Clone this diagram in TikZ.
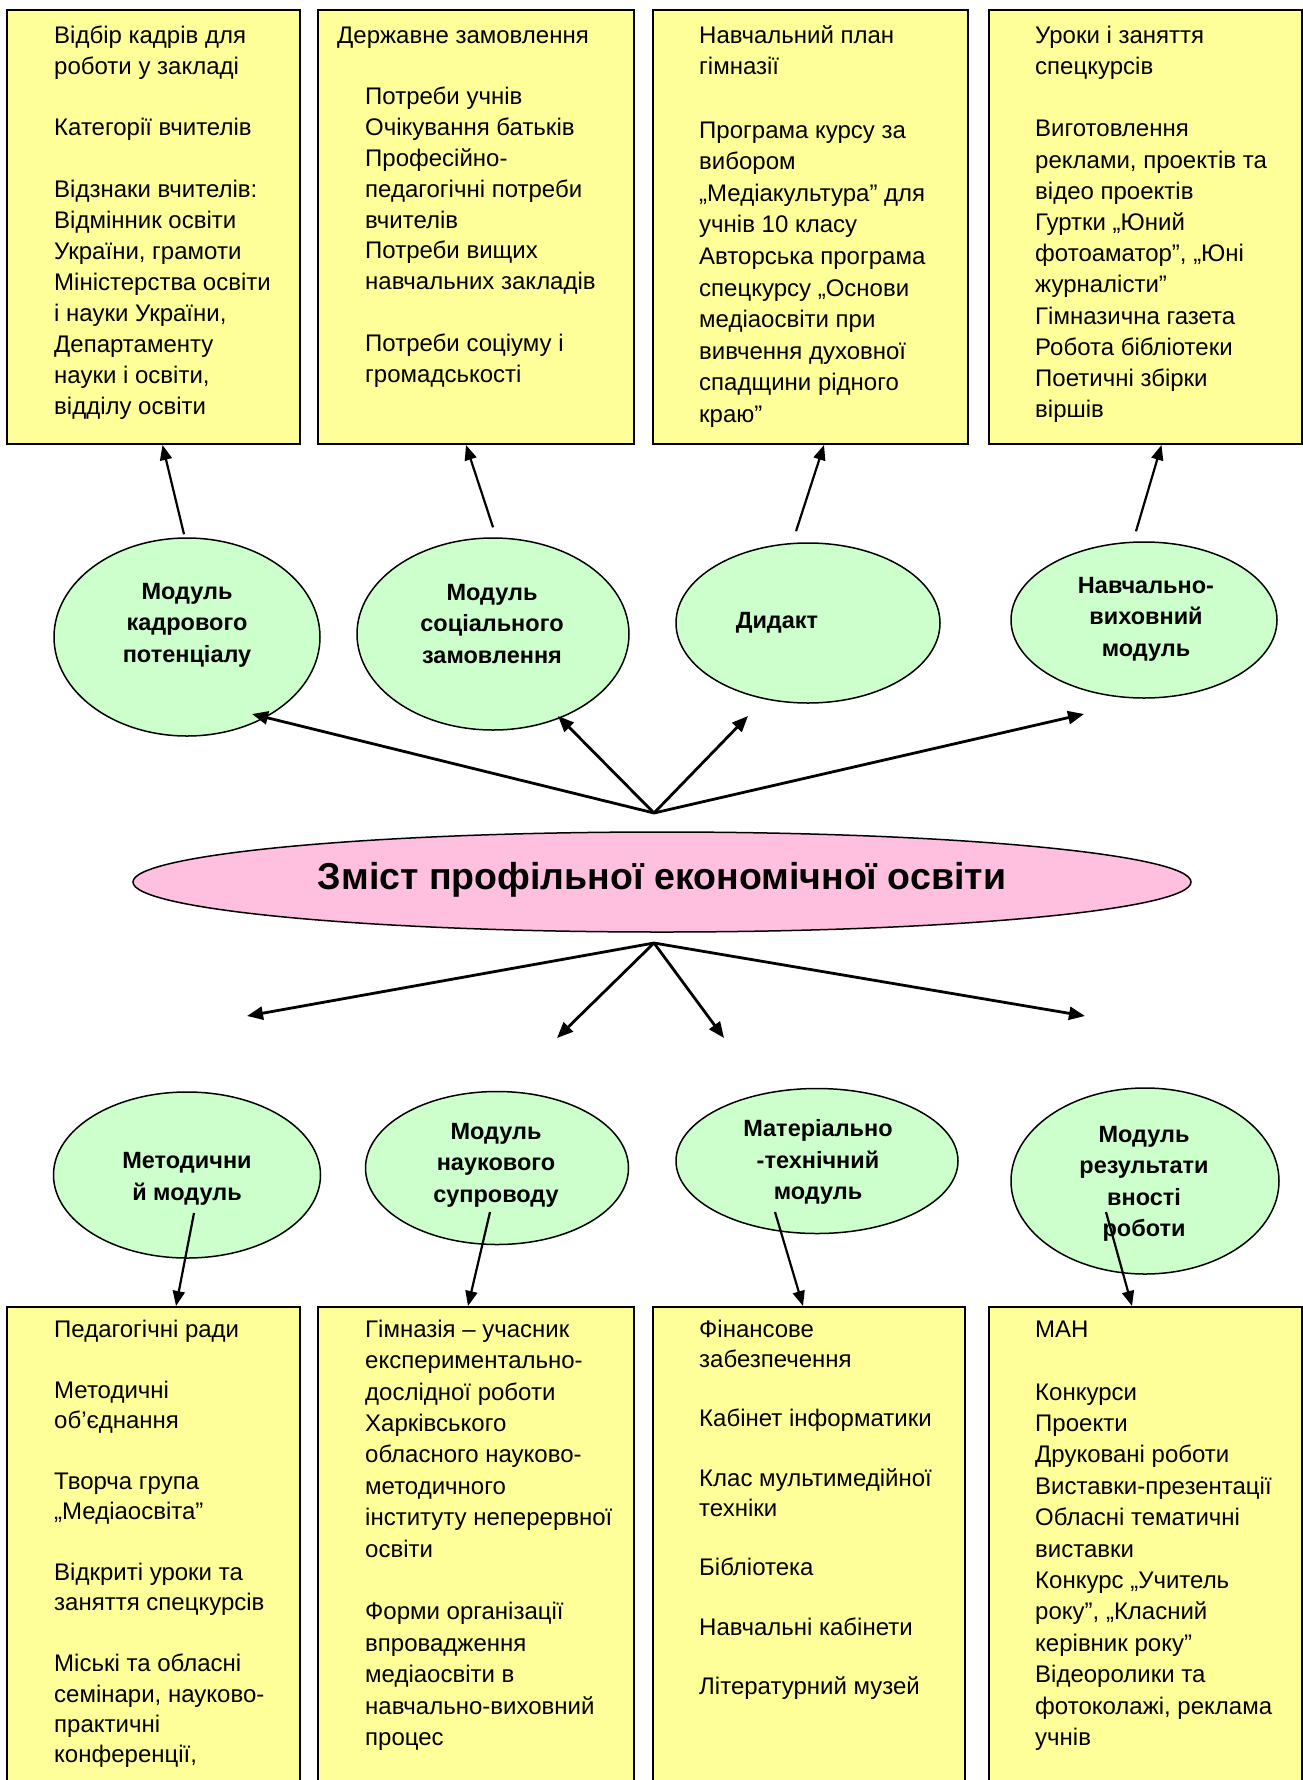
\documentclass[tikz,border=0pt]{standalone}
\usepackage{fontspec}
\setmainfont{Liberation Sans}
\usetikzlibrary{shapes.geometric,arrows.meta}
\definecolor{boxyellow}{HTML}{FFFF99}
\definecolor{elgreen}{HTML}{CCFFCC}
\definecolor{elpink}{HTML}{FFC0E0}
\newlength\bsk
\newcommand\ind{\hspace*{28pt}}
\newcommand\fl{\rule{0pt}{18pt}}
\newcommand\gap{\\[\bsk]}
\tikzset{
 boxsh/.style={draw=black, line width=2pt, fill=boxyellow, rectangle, inner sep=0pt, anchor=north west},
 boxtxt/.style={anchor=north west, inner sep=0pt, align=left, font={\fontsize{24}{#1}\selectfont\setlength{\bsk}{#1pt}}},
 modsh/.style={ellipse, draw=black, line width=1.5pt, fill=elgreen, inner sep=0pt},
 modtxt/.style={align=center, inner sep=0pt, font=\bfseries\fontsize{23.5}{31.5}\selectfont},
 arr/.style={-{Triangle[length=15pt,width=12pt]}, line width=2.2pt},
 hubarr/.style={-{Triangle[length=16pt,width=13pt]}, line width=2.8pt},
}
\begin{document}
\begin{tikzpicture}[x=1pt,y=-1pt]
\useasboundingbox (0,0) rectangle (1303,1780);
\clip (0,0) rectangle (1303,1780);
\fill[white] (0,0) rectangle (1303,1780);

% top boxes
\node[boxsh, minimum width=293pt, minimum height=434pt] (b1) at (6,9) {};
\node[boxsh, minimum width=316pt, minimum height=434pt] (b2) at (317,9) {};
\node[boxsh, minimum width=315pt, minimum height=434pt] (b3) at (652,9) {};
\node[boxsh, minimum width=313pt, minimum height=434pt] (b4) at (988,9) {};

% bottom boxes
\node[boxsh, minimum width=293pt, minimum height=500pt] (b5) at (6,1306) {};
\node[boxsh, minimum width=316pt, minimum height=500pt] (b6) at (317,1306) {};
\node[boxsh, minimum width=312pt, minimum height=500pt] (b7) at (652,1306) {};
\node[boxsh, minimum width=313pt, minimum height=500pt] (b8) at (988,1306) {};

% box texts
\node[boxtxt=30.9] (b1t) at (54,25) {\fl Відбір кадрів для\\роботи у закладі\gap Категорії вчителів\gap Відзнаки вчителів:\\Відмінник освіти\\України, грамоти\\Міністерства освіти\\і науки України,\\Департаменту\\науки і освіти,\\відділу освіти};
\node[boxtxt=30.8] (b2t) at (337,25) {\fl Державне замовлення\gap\ind Потреби учнів\\\ind Очікування батьків\\\ind Професійно-\\\ind педагогічні потреби\\\ind вчителів\\\ind Потреби вищих\\\ind навчальних закладів\gap\ind Потреби соціуму і\\\ind громадськості};
\node[boxtxt=31.6] (b3t) at (699,25) {\fl Навчальний план\\гімназії\gap Програма курсу за\\вибором\\„Медіакультура” для\\учнів 10 класу\\Авторська програма\\спецкурсу „Основи\\медіаосвіти при\\вивчення духовної\\спадщини рідного\\краю”};
\node[boxtxt=31.2] (b4t) at (1035,25) {\fl Уроки і заняття\\спецкурсів\gap Виготовлення\\реклами, проектів та\\відео проектів\\Гуртки „Юний\\фотоаматор”, „Юні\\журналісти”\\Гімназична газета\\Робота бібліотеки\\Поетичні збірки\\віршів};

\node[boxtxt=30.4] (b5t) at (54,1319) {\fl Педагогічні ради\gap Методичні\\об’єднання\gap Творча група\\„Медіаосвіта”\gap Відкриті уроки та\\заняття спецкурсів\gap Міські та обласні\\семінари, науково-\\практичні\\конференції,};
\node[boxtxt=31.4] (b6t) at (365,1319) {\fl Гімназія – учасник\\експериментально-\\дослідної роботи\\Харківського\\обласного науково-\\методичного\\інституту неперервної\\освіти\gap Форми організації\\впровадження\\медіаосвіти в\\навчально-виховний\\процес};
\node[boxtxt=29.8] (b7t) at (699,1319) {\fl Фінансове\\забезпечення\gap Кабінет інформатики\gap Клас мультимедійної\\техніки\gap Бібліотека\gap Навчальні кабінети\gap Літературний музей};
\node[boxtxt=31.4] (b8t) at (1035,1319) {\fl МАН\gap Конкурси\\Проекти\\Друковані роботи\\Виставки-презентації\\Обласні тематичні\\виставки\\Конкурс „Учитель\\року”, „Класний\\керівник року”\\Відеоролики та\\фотоколажі, реклама\\учнів};

% module ellipses
\node[modsh, minimum width=266pt, minimum height=198pt] (e1) at (187,637) {};
\node[modsh, minimum width=272pt, minimum height=192pt] (e2) at (493,634) {};
\node[modsh, minimum width=264pt, minimum height=160pt] (e3) at (808,623) {};
\node[modsh, minimum width=266pt, minimum height=156pt] (e4) at (1144,620) {};
\node[modsh, minimum width=267pt, minimum height=166pt] (e5) at (187,1175) {};
\node[modsh, minimum width=263pt, minimum height=153pt] (e6) at (497,1168) {};
\node[modsh, minimum width=282pt, minimum height=145pt] (e7) at (817,1161) {};
\node[modsh, minimum width=268pt, minimum height=186pt] (e8) at (1145,1181) {};

\node[modtxt] (e1t) at (187,625) {Модуль\\кадрового\\потенціалу};
\node[modtxt] (e2t) at (492,624) {Модуль\\соціального\\замовлення};
\node[modtxt] (e3t) at (777,623) {Дидакт};
\node[modtxt] (e4t) at (1146,619) {Навчально-\\виховний\\модуль};
\node[modtxt] (e5t) at (187,1179) {Методични\\й модуль};
\node[modtxt] (e6t) at (496,1165) {Модуль\\наукового\\супроводу};
\node[modtxt] (e7t) at (818,1162) {Матеріально\\-технічний\\модуль};
\node[modtxt] (e8t) at (1144,1184) {Модуль\\результати\\вності\\роботи};

% central ellipse
\node[ellipse, draw=black, line width=1.5pt, fill=elpink, inner sep=0pt, minimum width=1058pt, minimum height=100pt] (main) at (662,882) {};
\node[inner sep=0pt, font=\bfseries\fontsize{37.5}{42}\selectfont] (mt) at (662,880) {Зміст профільної економічної освіти};

% hub coordinates
\coordinate (hubt) at (654,813);
\coordinate (t1) at (252,714);
\coordinate (t2) at (558,716);
\coordinate (t3) at (748,716);
\coordinate (t4) at (1084,714);
\coordinate (hubb) at (654,943);
\coordinate (u1) at (247,1016);
\coordinate (u2) at (557,1038);
\coordinate (u3) at (724,1038);
\coordinate (u4) at (1085,1016);

\draw[hubarr] (hubt) -- (t1);
\draw[hubarr] (hubt) -- (t2);
\draw[hubarr] (hubt) -- (t3);
\draw[hubarr] (hubt) -- (t4);
\draw[hubarr] (hubb) -- (u1);
\draw[hubarr] (hubb) -- (u2);
\draw[hubarr] (hubb) -- (u3);
\draw[hubarr] (hubb) -- (u4);

% up arrows
\draw[arr] ([shift={(-3pt,3pt)}]e1.north) -- ([xshift=9pt]b1.south);
\draw[arr] ([yshift=10pt]e2.north) -- ([xshift=-10pt]b2.south);
\draw[arr] ([shift={(-12pt,11pt)}]e3.north) -- ([xshift=13.5pt]b3.south);
\draw[arr] ([shift={(-8pt,10pt)}]e4.north) -- ([xshift=16pt]b4.south);

% down arrows
\draw[arr] ([shift={(7pt,-38pt)}]e5.center) -- ([xshift=22.5pt]b5.north);
\draw[arr] ([shift={(-7pt,-44pt)}]e6.center) -- ([xshift=-8pt]b6.north);
\draw[arr] ([shift={(-42pt,-51pt)}]e7.center) -- ([xshift=-6pt]b7.north);
\draw[arr] ([shift={(-39pt,-31pt)}]e8.center) -- ([xshift=-13.5pt]b8.north);
\end{tikzpicture}
\end{document}
